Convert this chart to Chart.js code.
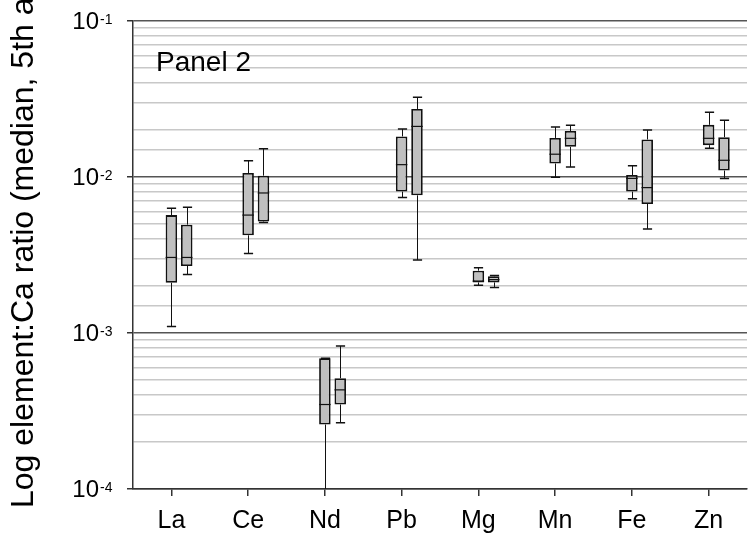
<!DOCTYPE html>
<html lang="en">
<head>
    <meta charset="UTF-8">
    <title>Panel 2 - element:Ca ratios</title>
    <style>
        body {
            margin: 0;
            padding: 0;
            background: white;
            overflow: hidden;
        }
        #wrap {
            width: 750px;
            height: 533px;
            position: relative;
        }
    </style>
</head>
<body>
    <div id="wrap">
        <canvas id="box-chart"></canvas>
    </div>

    <script src="https://cdn.jsdelivr.net/npm/chart.js"></script>
    <script>
        const categories = ['La', 'Ce', 'Nd', 'Pb', 'Mg', 'Mn', 'Fe', 'Zn'];

        // left box of each pair
        const p5A  = [1.10e-3, 3.23e-3, 8.0e-5,  7.40e-3, 2.02e-3, 9.96e-3, 7.26e-3, 1.53e-2];
        const q1A  = [2.10e-3, 4.23e-3, 2.59e-4, 8.06e-3, 2.11e-3, 1.22e-2, 8.06e-3, 1.60e-2];
        const medA = [3.05e-3, 5.70e-3, 3.48e-4, 1.20e-2, 2.15e-3, 1.40e-2, 9.80e-3, 1.77e-2];
        const q3A  = [5.70e-3, 1.06e-2, 6.90e-4, 1.82e-2, 2.51e-3, 1.78e-2, 1.03e-2, 2.16e-2];
        const p95A = [6.30e-3, 1.27e-2, 6.90e-4, 2.03e-2, 2.62e-3, 2.09e-2, 1.18e-2, 2.60e-2];

        // right box of each pair
        const p5B  = [2.37e-3, 5.10e-3, 2.66e-4, 2.94e-3, 1.96e-3, 1.16e-2, 4.65e-3, 9.77e-3];
        const q1B  = [2.69e-3, 5.18e-3, 3.48e-4, 7.63e-3, 2.11e-3, 1.56e-2, 6.72e-3, 1.10e-2];
        const medB = [3.05e-3, 7.90e-3, 4.32e-4, 2.11e-2, 2.20e-3, 1.77e-2, 8.55e-3, 1.28e-2];
        const q3B  = [4.95e-3, 1.02e-2, 5.13e-4, 2.73e-2, 2.31e-3, 1.97e-2, 1.74e-2, 1.80e-2];
        const p95B = [6.40e-3, 1.52e-2, 8.26e-4, 3.24e-2, 2.34e-3, 2.15e-2, 2.00e-2, 2.31e-2];

        const yTicks = [1e-1, 1e-2, 1e-3, 1e-4];
        const yTitle = 'Log element:Ca ratio (median, 5th and 95th percentiles)';
        const panelLabel = 'Panel 2';

        const FONT = '"Liberation Sans", Arial, sans-serif';

        const stats = {
            1: { p5: p5A, med: medA, p95: p95A },
            2: { p5: p5B, med: medB, p95: p95B }
        };

        function isDecade(v) {
            const l = Math.log10(v);
            return Math.abs(l - Math.round(l)) < 1e-6;
        }

        // whiskers, caps and median lines on top of the boxes
        const whiskerPlugin = {
            id: 'whiskers',
            afterDatasetsDraw(chart) {
                const ctx = chart.ctx;
                const y = chart.scales.y;
                const area = chart.chartArea;
                ctx.save();
                ctx.beginPath();
                ctx.rect(area.left, area.top, area.right - area.left, area.bottom - area.top);
                ctx.clip();
                ctx.strokeStyle = '#111';
                [1, 2].forEach(di => {
                    const meta = chart.getDatasetMeta(di);
                    const s = stats[di];
                    const box = chart.data.datasets[di].data;
                    meta.data.forEach((bar, i) => {
                        const x = Math.round(bar.x) + 0.5;
                        const half = bar.width / 2;
                        const cap = half * 0.8;
                        const yLow = y.getPixelForValue(s.p5[i]);
                        const yHigh = y.getPixelForValue(s.p95[i]);
                        const yQ1 = y.getPixelForValue(box[i][0]);
                        const yQ3 = y.getPixelForValue(box[i][1]);
                        const yMed = y.getPixelForValue(s.med[i]);

                        ctx.lineWidth = 1;
                        ctx.beginPath();
                        ctx.moveTo(x, yHigh);
                        ctx.lineTo(x, yQ3);
                        ctx.moveTo(x, yQ1);
                        ctx.lineTo(x, yLow);
                        ctx.stroke();

                        ctx.lineWidth = 1.5;
                        ctx.beginPath();
                        ctx.moveTo(x - cap, yHigh);
                        ctx.lineTo(x + cap, yHigh);
                        ctx.moveTo(x - cap, yLow);
                        ctx.lineTo(x + cap, yLow);
                        ctx.stroke();

                        ctx.lineWidth = 1.2;
                        ctx.beginPath();
                        ctx.moveTo(bar.x - half, yMed);
                        ctx.lineTo(bar.x + half, yMed);
                        ctx.stroke();
                    });
                });
                ctx.restore();
            }
        };

        // power-of-ten tick labels, axis title and panel label
        const textPlugin = {
            id: 'texts',
            afterDraw(chart) {
                const ctx = chart.ctx;
                const y = chart.scales.y;
                const area = chart.chartArea;
                ctx.save();
                ctx.fillStyle = '#000';
                yTicks.forEach(v => {
                    const py = y.getPixelForValue(v);
                    const exp = Math.round(Math.log10(v));
                    ctx.font = '24px ' + FONT;
                    ctx.textAlign = 'right';
                    ctx.textBaseline = 'middle';
                    ctx.fillText('10', 99, py + 1);
                    ctx.font = '14px ' + FONT;
                    ctx.textAlign = 'left';
                    ctx.textBaseline = 'alphabetic';
                    ctx.fillText(String(exp), 100, py + 3);
                });

                ctx.font = '28px ' + FONT;
                ctx.textAlign = 'left';
                ctx.textBaseline = 'alphabetic';
                ctx.fillText(panelLabel, area.left + 23, 71);

                ctx.translate(33, 508);
                ctx.rotate(-Math.PI / 2);
                ctx.font = '32px ' + FONT;
                ctx.fillText(yTitle, 0, 0);
                ctx.restore();
            }
        };

        const boxChart = new Chart(document.getElementById('box-chart'), {
            type: 'bar',
            data: {
                labels: categories,
                datasets: [
                    {
                        label: 'spacer',
                        data: categories.map(() => null)
                    },
                    {
                        label: 'A',
                        data: q1A.map((v, i) => [v, q3A[i]]),
                        backgroundColor: '#c0c0c0',
                        borderColor: '#111',
                        borderWidth: 1.8,
                        borderSkipped: false
                    },
                    {
                        label: 'B',
                        data: q1B.map((v, i) => [v, q3B[i]]),
                        backgroundColor: '#c0c0c0',
                        borderColor: '#111',
                        borderWidth: 1.8,
                        borderSkipped: false
                    }
                ]
            },
            options: {
                responsive: true,
                maintainAspectRatio: false,
                animation: false,
                categoryPercentage: 0.6,
                barPercentage: 0.75,
                layout: {
                    padding: { top: 21, right: 3, left: 0, bottom: 0 }
                },
                plugins: {
                    legend: { display: false },
                    tooltip: { enabled: false }
                },
                scales: {
                    x: {
                        afterFit(scale) { scale.height = 44; },
                        grid: {
                            offset: false,
                            drawOnChartArea: false,
                            drawTicks: true,
                            tickLength: 7,
                            tickColor: '#333',
                            lineWidth: 1.5
                        },
                        border: { color: '#333', width: 1.5 },
                        ticks: {
                            color: '#000',
                            padding: 10,
                            font: { family: FONT, size: 25 }
                        }
                    },
                    y: {
                        type: 'logarithmic',
                        min: 1e-4,
                        max: 1e-1,
                        afterFit(scale) { scale.width = 133; },
                        grid: {
                            color: ctx => isDecade(ctx.tick.value) ? '#555' : '#c8c8c8',
                            tickColor: ctx => isDecade(ctx.tick.value) ? '#333' : 'rgba(0,0,0,0)',
                            lineWidth: 1.5,
                            tickLength: 6
                        },
                        border: { color: '#333', width: 1.5 },
                        ticks: { display: false }
                    }
                }
            },
            plugins: [whiskerPlugin, textPlugin]
        });
    </script>
</body>
</html>
